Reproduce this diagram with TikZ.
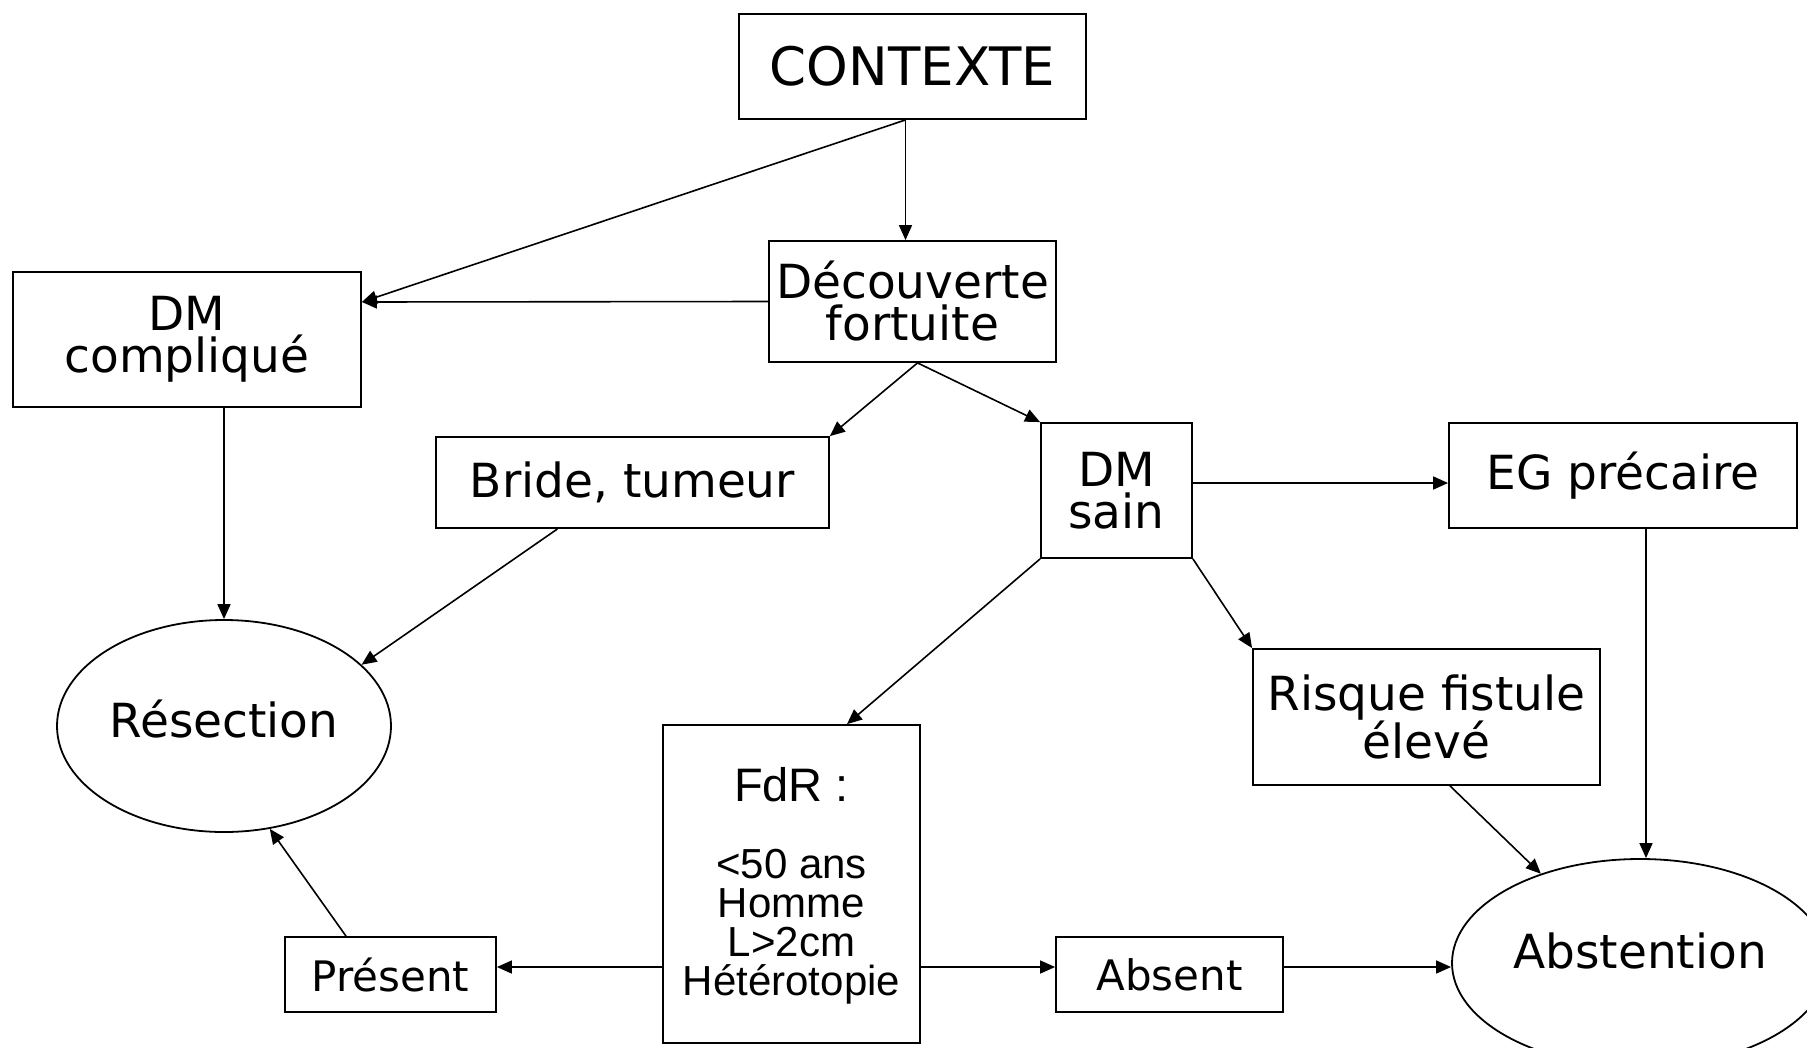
\documentclass[tikz,border=0pt]{standalone}
\usepackage{fontspec}
\setmainfont{DejaVu Sans}
\newfontfamily\arialf{Liberation Sans}
\usetikzlibrary{arrows.meta,shapes.geometric,calc}
\tikzset{
  box/.style={draw,line width=1.8pt,inner sep=0pt,align=center},
  oval/.style={draw,ellipse,line width=1.8pt,inner sep=0pt,align=center},
  arr/.style={line width=1.6pt,-{Triangle[length=15pt,width=13pt]}},
  big/.style={font=\fontsize{53}{50}\selectfont},
  mid/.style={font=\fontsize{47}{42}\selectfont},
  sml/.style={font=\fontsize{42}{40}\selectfont},
}
\begin{document}
\begin{tikzpicture}[x=1pt,y=-1pt]
\useasboundingbox (0,0) rectangle (1807,1047);
\node[box,big,minimum width=347pt,minimum height=105pt] (ctx) at (912.5,66.5) {CONTEXTE};
\node[box,mid,minimum width=287pt,minimum height=121pt] (dec) at (912.5,301.5) {Découverte\\fortuite};
\node[box,mid,minimum width=348pt,minimum height=135pt] (dmc) at (187,339.5) {DM\\compliqué};
\node[box,mid,minimum width=393pt,minimum height=91pt] (bride) at (632.5,482.5) {Bride, tumeur};
\node[box,mid,minimum width=151pt,minimum height=135pt] (dms) at (1116.5,490.5) {DM\\sain};
\node[box,mid,minimum width=348pt,minimum height=105pt] (eg) at (1623,475.5) {EG précaire};
\node[box,mid,minimum width=347pt,minimum height=136pt] (risk) at (1426.5,717) {Risque fistule\\élevé};
\node[box,minimum width=257pt,minimum height=318pt] (fdr) at (791.5,884) {};
\node[font=\arialf\fontsize{47}{47}\selectfont,anchor=base] (fdrt) at (791.5,801) {FdR :};
\node[font=\arialf\fontsize{42}{39}\selectfont,align=center,anchor=base] (fdrl) at (791.5,995) {<50 ans\\Homme\\L>2cm\\Hétérotopie};
\node[box,sml,minimum width=211pt,minimum height=75pt] (pres) at (390.5,974.5) {Présent};
\node[box,sml,minimum width=227pt,minimum height=75pt] (abs) at (1169.5,974.5) {Absent};
\node[oval,mid,minimum width=334pt,minimum height=212pt,text height=34pt,text depth=12pt] (res) at (224,726) {Résection};
\node[oval,mid,minimum width=376pt,minimum height=208pt,text height=34pt,text depth=24pt] (abst) at (1640,963) {Abstention};

\coordinate (ctxo) at ([xshift=-7pt]ctx.south);
\coordinate (dmcin) at ([yshift=37.5pt]dmc.east);
\coordinate (deco) at ([xshift=5pt]dec.south);
\draw[arr] (ctxo) -- (ctxo |- dec.north);
\draw[arr] (ctxo) -- (dmcin);
\draw[arr] (dec.west) -- (dmcin);
\draw[arr] (deco) -- (bride.north east);
\draw[arr] (deco) -- (dms.north west);
\draw[arr] (res.north |- dmc.south) -- (res.north);
\draw[arr] ([xshift=-75pt]bride.south) -- (res.24);
\coordinate (dmso) at ([yshift=7.5pt]dms.east);
\draw[arr] (dmso) -- (dmso -| eg.west);
\draw[arr] (dms.south west) -- ([xshift=55.5pt]fdr.north);
\draw[arr] (dms.south east) -- (risk.north west);
\coordinate (ego) at ([xshift=23pt]eg.south);
\draw[arr] (ego) -- (ego |- abst.north);
\draw[arr] ([xshift=23.5pt]risk.south) -- (abst.138.7);
\coordinate (fdrw) at ([yshift=-83pt]fdr.west);
\coordinate (fdre) at ([yshift=-83pt]fdr.east);
\draw[arr] (fdrw) -- (fdrw -| pres.east);
\draw[arr] (fdre) -- (fdre -| abs.west);
\coordinate (abso) at ([yshift=7.5pt]abs.east);
\draw[arr] (abso) -- (abso -| abst.west);
\draw[arr] ([xshift=-44.5pt]pres.north) -- (res.-66);
\end{tikzpicture}
\end{document}
